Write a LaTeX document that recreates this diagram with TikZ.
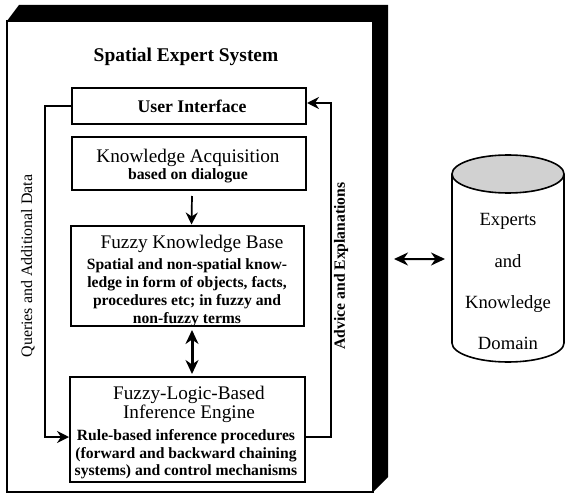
\documentclass[tikz,border=0pt]{standalone}
\usepackage{fontspec}
\setmainfont{Liberation Serif}
\usetikzlibrary{arrows.meta}
\begin{document}
\begin{tikzpicture}[x=1bp,y=-1bp,
  frame/.style={draw,line width=2bp,fill=white,inner sep=0pt},
  box/.style={draw,line width=2bp,inner sep=0pt},
  head/.style={anchor=base,inner sep=0pt,font=\fontsize{19.3}{22}\selectfont},
  body/.style={anchor=base,inner sep=0pt,font=\bfseries\fontsize{15.7}{18}\selectfont},
  dbtext/.style={anchor=base,inner sep=0pt,font=\fontsize{18.7}{22}\selectfont},
  link/.style={line width=1.7bp,-{Stealth[length=12bp,width=12bp,inset=4bp]}},
  dbl/.style={line width=#1,{Stealth[length=14bp,width=13bp,inset=4.5bp]}-{Stealth[length=14bp,width=13bp,inset=4.5bp]}}
]
\useasboundingbox (0,0) rectangle (565,495);

% raised frame: black depth band, then the white face
\fill (7,21) -- (19,5) -- (388,5) -- (388,477) -- (373,492) -- cycle;
\node[frame,minimum width=366bp,minimum height=471bp] (sys) at (190,256.5) {};

\node[anchor=base,inner sep=0pt,font=\bfseries\fontsize{19.5}{22}\selectfont] (title) at (186,62) {Spatial Expert System};

% component boxes
\node[box,minimum width=234bp,minimum height=36bp] (ui) at (189,106) {};
\node[box,minimum width=234bp,minimum height=53bp] (ka) at (189,163.5) {};
\node[box,minimum width=233bp,minimum height=100bp] (kb) at (187.5,276) {};
\node[box,minimum width=235bp,minimum height=105bp] (ie) at (187.5,429.5) {};

% box texts
\node[anchor=base,inner sep=0pt,font=\bfseries\fontsize{17.8}{20}\selectfont] (uit) at (192,113) {User Interface};
\node[head] (kat) at (188,163) {Knowledge Acquisition};
\node[anchor=base,inner sep=0pt,font=\bfseries\fontsize{15.8}{18}\selectfont] (kas) at (188,180) {based on dialogue};

\node[head] (kbt) at (192,248) {Fuzzy Knowledge Base};
\node[body] (kb1) at (187,269) {Spatial and non-spatial know-};
\node[body] (kb2) at (187,287) {ledge in form of objects, facts,};
\node[body] (kb3) at (187,305) {procedures etc; in fuzzy and};
\node[body] (kb4) at (187,323) {non-fuzzy terms};

\node[head] (iet) at (189,399) {Fuzzy-Logic-Based};
\node[head] (iet2) at (189,418) {Inference Engine};
\node[body] (ie1) at (186,440) {Rule-based inference procedures};
\node[body] (ie2) at (186,458) {(forward and backward chaining};
\node[body] (ie3) at (186,475) {systems) and control mechanisms};

% feedback loops
\coordinate (qx) at (45,437);
\coordinate (ax) at (331,437);
\draw[link] (ui.west) -| (qx) -- (ie.west |- qx);
\draw[link] (ie.east |- ax) -- (ax) |- ([yshift=3bp]ui.east);

\node[rotate=90,inner sep=0pt,font=\fontsize{16}{18}\selectfont] (ql) at (28,266) {Queries and Additional Data};
\node[rotate=90,inner sep=0pt,font=\bfseries\fontsize{15.7}{18}\selectfont] (al) at (341,266) {Advice and Explanations};

% flow between the inner components
\draw[link] ([xshift=3bp,yshift=-5bp]ka.south) -- ([xshift=4bp,yshift=0.5bp]kb.north);
\draw[dbl=3bp] ([xshift=4.5bp,yshift=-3bp]kb.south) -- ([xshift=4.5bp,yshift=2bp]ie.north);

% experts and knowledge domain store
\draw[line width=1.6bp,fill=white] (452,174) -- (452,343) arc[start angle=180,end angle=360,x radius=56bp,y radius=19bp] -- (564,174);
\draw[line width=1.6bp,fill=black!18] (508,174) ellipse[x radius=56bp,y radius=19bp];
\coordinate (dbw) at (452,259);
\node[dbtext] (d1) at (508,226) {Experts};
\node[dbtext] (d2) at (508,267) {and};
\node[dbtext] (d3) at (508,308) {Knowledge};
\node[dbtext] (d4) at (508,349) {Domain};

\draw[dbl=2bp] ([xshift=20bp,yshift=-2.5bp]sys.east) -- ([xshift=-7bp]dbw);
\end{tikzpicture}
\end{document}
